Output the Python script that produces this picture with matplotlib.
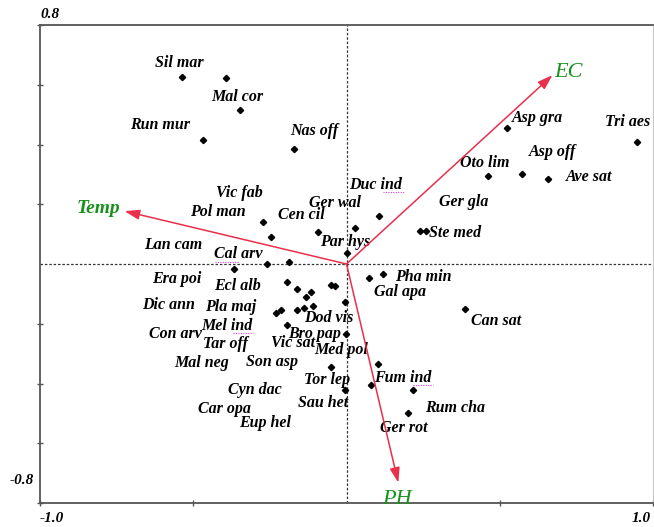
import matplotlib
matplotlib.use('Agg')
import matplotlib.pyplot as plt

# species scores (points)
pt_x = [-0.536, -0.393, -0.347, -0.468, -0.172, -0.273, -0.247, -0.094, 0.029, 0.107,
        0.000, -0.260, -0.188, -0.367, -0.195, -0.162, -0.117, -0.133, -0.049, -0.036,
        0.075, 0.120, -0.006, -0.231, -0.214, -0.162, -0.140, -0.110, -0.195, -0.003,
        -0.052, 0.104, 0.081, -0.006, 0.218, 0.201, 0.386, 0.523, 0.948, 0.461,
        0.571, 0.659, 0.240, 0.260]
pt_y = [0.625, 0.622, 0.515, 0.415, 0.385, 0.140, 0.090, 0.107, 0.120, 0.161,
        0.037, 0.000, 0.007, -0.017, -0.060, -0.084, -0.094, -0.110, -0.070, -0.074,
        -0.047, -0.033, -0.127, -0.164, -0.154, -0.154, -0.147, -0.140, -0.204, -0.234,
        -0.344, -0.334, -0.405, -0.421, -0.421, -0.498, -0.151, 0.455, 0.408, 0.294,
        0.301, 0.284, 0.110, 0.110]

# species labels and where they sit in the chart
lab_names = ['Sil mar', 'Mal cor', 'Run mur', 'Nas off', 'Vic fab', 'Pol man', 'Cen cil',
             'Ger wal', 'Duc ind', 'Par hys', 'Lan cam', 'Cal arv', 'Era poi', 'Ecl alb',
             'Dic ann', 'Pla maj', 'Mel ind', 'Con arv', 'Tar off', 'Mal neg', 'Son asp',
             'Vic sat', 'Bro pap', 'Dod vis', 'Med pol', 'Tor lep', 'Sau het', 'Cyn dac',
             'Car opa', 'Eup hel', 'Fum ind', 'Ger rot', 'Rum cha', 'Pha min', 'Gal apa',
             'Can sat', 'Asp gra', 'Tri aes', 'Oto lim', 'Asp off', 'Ave sat', 'Ger gla',
             'Ste med']
lab_x = [-0.545, -0.357, -0.610, -0.104, -0.351, -0.419, -0.146, -0.039, 0.094, -0.003,
         -0.565, -0.354, -0.552, -0.357, -0.581, -0.377, -0.390, -0.558, -0.396, -0.474,
         -0.244, -0.175, -0.104, -0.058, -0.016, -0.065, -0.075, -0.299, -0.399, -0.266,
         0.185, 0.188, 0.354, 0.250, 0.175, 0.487, 0.623, 0.916, 0.451, 0.672,
         0.792, 0.383, 0.354]
lab_y = [0.672, 0.559, 0.465, 0.445, 0.237, 0.174, 0.164, 0.204, 0.264, 0.074,
         0.064, 0.033, -0.050, -0.074, -0.137, -0.144, -0.207, -0.234, -0.268, -0.331,
         -0.328, -0.264, -0.234, -0.181, -0.288, -0.388, -0.465, -0.421, -0.485, -0.532,
         -0.381, -0.548, -0.482, -0.043, -0.094, -0.191, 0.488, 0.475, 0.338, 0.375,
         0.291, 0.207, 0.104]

# environmental variables (arrow tips)
env_names = ['Temp', 'EC', 'PH']
env_x = [-0.724, 0.672, 0.169]
env_y = [0.177, 0.632, -0.732]

red = '#e8304a'
green = '#18901c'
fnt = 'Liberation Serif'

fig = plt.figure(figsize=(6.54, 5.27), dpi=100)
ax = fig.add_axes([40 / 654, 24 / 527, 613 / 654, 478 / 527])
ax.set_xlim(-1.0, 1.0)
ax.set_ylim(-0.8, 0.8)

for s in ['left', 'bottom', 'top']:
    ax.spines[s].set_color('#555555')
    ax.spines[s].set_linewidth(1.3)
ax.spines['right'].set_color('#c8c8c8')
ax.spines['right'].set_linewidth(0.8)

ax.set_xticks([-1.0, -0.5, 0.5, 1.0])
ax.set_yticks([-0.8, -0.6, -0.4, -0.2, 0.2, 0.4, 0.6, 0.8])
ax.set_xticklabels([])
ax.set_yticklabels([])
ax.tick_params(direction='inout', length=5, width=1, color='#555555',
               top=False, right=False)

ax.axhline(0, color='#333333', lw=0.9, dashes=(2, 1.5), zorder=1)
ax.axvline(0, color='#333333', lw=0.9, dashes=(2, 1.5), zorder=1)

ax.plot(pt_x, pt_y, 'D', color='black', ms=3.2, zorder=3)

for n, x, y in zip(lab_names, lab_x, lab_y):
    ax.text(x, y, n, family=fnt, style='italic', weight='bold', fontsize=11.5,
            ha='center', va='center', zorder=4)

# spell-check dotted underlines seen in the original
for x0, x1, y in [(0.119, 0.188, 0.241), (-0.429, -0.351, 0.007),
                  (-0.371, -0.305, -0.231), (0.217, 0.282, -0.405)]:
    ax.plot([x0, x1], [y, y], color='#e040e0', lw=0.8, dashes=(1, 1.2), zorder=4)

for n, x, y in zip(env_names, env_x, env_y):
    ax.annotate('', xy=(x, y), xytext=(0, 0),
                arrowprops=dict(arrowstyle='-|>,head_length=0.9,head_width=0.3',
                                color=red, lw=1.1, shrinkA=0, shrinkB=0), zorder=5)

ax.text(env_x[0] - 0.015, env_y[0] + 0.01, env_names[0], family=fnt, style='italic',
        weight='bold', fontsize=14, color=green, ha='right', va='center')
ax.text(env_x[1] + 0.005, env_y[1] + 0.01, env_names[1], family=fnt, style='italic',
        fontsize=16, color=green, ha='left', va='center')
ax.text(env_x[2] - 0.005, env_y[2] - 0.025, env_names[2], family=fnt, style='italic',
        fontsize=16, color=green, ha='center', va='top')

# axis end labels
lab_kw = dict(family=fnt, style='italic', weight='bold', fontsize=11)
fig.text(40 / 654, 1 - 14 / 527, '0.8', ha='left', va='center', **lab_kw)
fig.text(34 / 654, 1 - 480 / 527, '-0.8', ha='right', va='center', **lab_kw)
fig.text(40 / 654, 1 - 519 / 527, '-1.0', ha='left', va='center', **lab_kw)
fig.text(651 / 654, 1 - 519 / 527, '1.0', ha='right', va='center', **lab_kw)

fig.savefig('out.png', dpi=100)
